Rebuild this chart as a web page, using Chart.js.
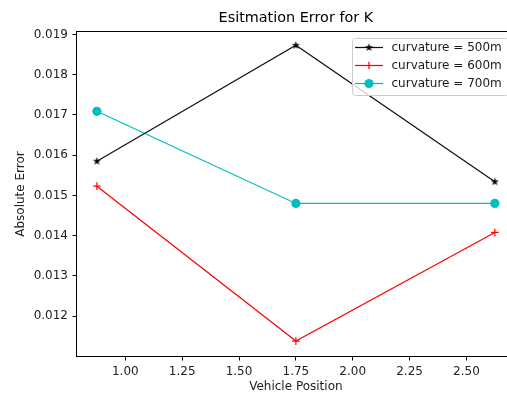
<!DOCTYPE html>
<html lang="en">
<head>
<meta charset="UTF-8">
<title>Esitmation Error for K</title>
<script src="https://cdn.jsdelivr.net/npm/chart.js"></script>
<style>
    html, body { margin: 0; padding: 0; background: #fff; overflow: hidden; }
    #wrap { width: 507px; height: 394px; overflow: hidden; }
</style>
</head>
<body>
<div id="wrap"><canvas id="errChart" width="520" height="394"></canvas></div>
<script>
    // values
    var positions = [0.875, 1.75, 2.625];
    var err500 = [0.01585, 0.01873, 0.01534];
    var err600 = [0.01523, 0.01138, 0.01408];
    var err700 = [0.01709, 0.01480, 0.01480];
    var seriesLabels = ['curvature = 500m', 'curvature = 600m', 'curvature = 700m'];
    var xTicks = [1.00, 1.25, 1.50, 1.75, 2.00, 2.25, 2.50];
    var yTicks = [0.012, 0.013, 0.014, 0.015, 0.016, 0.017, 0.018, 0.019];

    var FONT = 'DejaVu Sans';

    // filled star like matplotlib '*'
    function starMarker(r, color) {
        var size = Math.ceil(r * 2 + 2);
        var c = document.createElement('canvas');
        c.width = c.height = size;
        var g = c.getContext('2d');
        g.fillStyle = color;
        g.beginPath();
        for (var i = 0; i < 10; i++) {
            var rad = i % 2 ? r * 0.4 : r;
            var a = -Math.PI / 2 + i * Math.PI / 5;
            g.lineTo(size / 2 + rad * Math.cos(a), size / 2 + rad * Math.sin(a));
        }
        g.closePath();
        g.fill();
        return c;
    }

    function toPoints(ys) {
        return positions.map((x, i) => ({ x: x, y: ys[i] }));
    }

    var datasets = [
        { label: seriesLabels[0], data: toPoints(err500), borderColor: '#111111', backgroundColor: '#000000',
          pointStyle: starMarker(4.2, '#000000'), pointRadius: 4 },
        { label: seriesLabels[1], data: toPoints(err600), borderColor: '#ff0000', backgroundColor: '#ff0000',
          pointStyle: 'cross', pointRadius: 3.8, pointBorderWidth: 1.2 },
        { label: seriesLabels[2], data: toPoints(err700), borderColor: '#00bfbf', backgroundColor: '#00bfbf',
          pointStyle: 'circle', pointRadius: 4.6, pointBorderWidth: 0 }
    ];
    datasets.forEach(d => { d.borderWidth = 1.25; d.tension = 0; d.fill = false; });

    function drawMarker(ctx, ds, x, y) {
        var s = ds.pointStyle;
        ctx.save();
        if (s instanceof HTMLCanvasElement) {
            ctx.drawImage(s, x - s.width / 2, y - s.height / 2);
        } else if (s === 'cross') {
            ctx.strokeStyle = ds.borderColor;
            ctx.lineWidth = ds.pointBorderWidth;
            ctx.beginPath();
            ctx.moveTo(x - ds.pointRadius, y); ctx.lineTo(x + ds.pointRadius, y);
            ctx.moveTo(x, y - ds.pointRadius); ctx.lineTo(x, y + ds.pointRadius);
            ctx.stroke();
        } else {
            ctx.fillStyle = ds.backgroundColor;
            ctx.beginPath();
            ctx.arc(x, y, ds.pointRadius, 0, Math.PI * 2);
            ctx.fill();
        }
        ctx.restore();
    }

    // axes frame + title centred on the axes
    var framePlugin = {
        id: 'frame',
        afterDraw(chart) {
            var a = chart.chartArea, ctx = chart.ctx;
            ctx.save();
            ctx.strokeStyle = '#000';
            ctx.lineWidth = 1;
            ctx.strokeRect(Math.round(a.left) - 0.5, Math.round(a.top) - 0.5,
                Math.round(a.right - a.left) + 1, Math.round(a.bottom - a.top) + 1);
            ctx.fillStyle = '#000';
            ctx.font = '14.4px "' + FONT + '"';
            ctx.textAlign = 'center';
            ctx.textBaseline = 'middle';
            ctx.fillText('Esitmation Error for K', (a.left + a.right) / 2, 18);
            ctx.restore();
        }
    };

    // matplotlib style legend in the upper right
    var legendPlugin = {
        id: 'mplLegend',
        afterDraw(chart) {
            var ctx = chart.ctx;
            var bx = 352.5, by = 38.5, bw = 157, bh = 57;
            ctx.save();
            ctx.fillStyle = 'rgba(255,255,255,0.8)';
            ctx.strokeStyle = '#cccccc';
            ctx.lineWidth = 1;
            ctx.beginPath();
            ctx.roundRect(bx, by, bw, bh, 3);
            ctx.fill();
            ctx.stroke();
            chart.data.datasets.forEach((ds, i) => {
                var cy = 47.5 + i * 18;
                ctx.strokeStyle = ds.borderColor;
                ctx.lineWidth = ds.borderWidth;
                ctx.beginPath();
                ctx.moveTo(355, cy);
                ctx.lineTo(383, cy);
                ctx.stroke();
                drawMarker(ctx, ds, 369, cy);
                ctx.fillStyle = '#1a1a1a';
                ctx.font = '12px "' + FONT + '"';
                ctx.textAlign = 'left';
                ctx.textBaseline = 'middle';
                ctx.fillText(ds.label, 391.5, cy);
            });
            ctx.restore();
        }
    };

    var tickGrid = { drawOnChartArea: false, drawTicks: true, tickLength: 4.5, color: '#000', lineWidth: 1 };

    new Chart(document.getElementById('errChart'), {
        type: 'line',
        data: { datasets: datasets },
        plugins: [framePlugin, legendPlugin],
        options: {
            responsive: false,
            animation: false,
            layout: { padding: { left: 0, top: 32, right: 4.5, bottom: 0 } },
            plugins: { legend: { display: false }, title: { display: false }, tooltip: { enabled: false } },
            scales: {
                x: {
                    type: 'linear',
                    min: 0.7875,
                    max: 2.7125,
                    afterFit: s => { s.height = 38; },
                    afterBuildTicks: s => { s.ticks = xTicks.map(v => ({ value: v })); },
                    grid: tickGrid,
                    border: { display: false },
                    ticks: {
                        autoSkip: false, maxRotation: 0, padding: 4, color: '#222',
                        font: { family: FONT, size: 12 },
                        callback: v => v.toFixed(2)
                    },
                    title: { display: true, text: 'Vehicle Position', color: '#222',
                        font: { family: FONT, size: 12 }, padding: { top: 0, bottom: 0 } }
                },
                y: {
                    min: 0.01101,
                    max: 0.01906,
                    afterFit: s => { s.width = 77; },
                    afterBuildTicks: s => { s.ticks = yTicks.map(v => ({ value: v })); },
                    grid: tickGrid,
                    border: { display: false },
                    ticks: {
                        autoSkip: false, padding: 4.5, color: '#222',
                        font: { family: FONT, size: 12 },
                        callback: v => v.toFixed(3)
                    },
                    title: { display: true, text: 'Absolute Error', color: '#222',
                        font: { family: FONT, size: 12 }, padding: { top: 14, bottom: 0 } }
                }
            }
        }
    });
</script>
</body>
</html>
